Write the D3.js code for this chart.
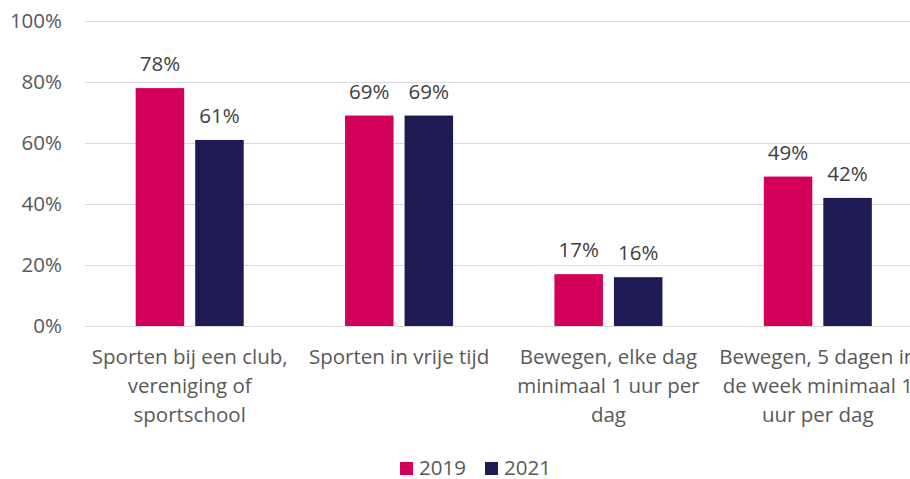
<!DOCTYPE html>
<html>
<head>
<meta charset="utf-8">
<script src="https://cdn.jsdelivr.net/npm/d3@7"></script>
<style>
  html, body { margin: 0; padding: 0; background: #fff; }
  svg { display: block; font-family: "Open Sans", sans-serif; }
</style>
</head>
<body>
<svg id="chart" width="910" height="479"></svg>
<script>
const categories = ['club', 'vrij', 'elke', 'vijf'];
const categoryLines = [
  ['Sporten bij een club,', 'vereniging of', 'sportschool'],
  ['Sporten in vrije tijd'],
  ['Bewegen, elke dag', 'minimaal 1 uur per', 'dag'],
  ['Bewegen, 5 dagen in', 'de week minimaal 1', 'uur per dag']
];
const seriesNames = ['2019', '2021'];
const values2019 = [0.78, 0.69, 0.17, 0.49];
const values2021 = [0.61, 0.69, 0.16, 0.42];
const yTicks = [0, 0.2, 0.4, 0.6, 0.8, 1];

const colors = { '2019': '#D3005A', '2021': '#1E1A53' };
const textColor = '#595959';
const fontSize = 20.5;

const svg = d3.select('#chart');

// plot area runs past the right edge, like the cropped original
const x = d3.scaleBand()
  .domain(categories)
  .range([85, 922.5])
  .paddingInner(0.484)
  .paddingOuter(0.242);

const xs = d3.scaleBand()
  .domain(seriesNames)
  .range([0, x.bandwidth()])
  .paddingInner(0.185);

const y = d3.scaleLinear().domain([0, 1]).range([326, 21]);

// gridlines
svg.append('g')
  .selectAll('line')
  .data(yTicks)
  .join('line')
  .attr('x1', 85)
  .attr('x2', 910)
  .attr('y1', d => Math.round(y(d)) + 0.5)
  .attr('y2', d => Math.round(y(d)) + 0.5)
  .attr('stroke', '#D9D9D9')
  .attr('stroke-width', 1);

// y tick labels
svg.append('g')
  .selectAll('text')
  .data(yTicks)
  .join('text')
  .attr('x', 62)
  .attr('y', d => y(d))
  .attr('dy', '0.35em')
  .attr('text-anchor', 'end')
  .attr('font-size', fontSize)
  .attr('fill', textColor)
  .text(d3.format('.0%'));

const rows = categories.map((c, i) => ({
  cat: c,
  vals: [
    { key: '2019', v: values2019[i] },
    { key: '2021', v: values2021[i] }
  ]
}));

const groups = svg.append('g')
  .selectAll('g')
  .data(rows)
  .join('g')
  .attr('transform', d => `translate(${x(d.cat)},0)`);

groups.selectAll('rect')
  .data(d => d.vals)
  .join('rect')
  .attr('x', d => xs(d.key))
  .attr('y', d => y(d.v))
  .attr('width', xs.bandwidth())
  .attr('height', d => y(0) - y(d.v))
  .attr('fill', d => colors[d.key]);

groups.selectAll('text.val')
  .data(d => d.vals)
  .join('text')
  .attr('class', 'val')
  .attr('x', d => xs(d.key) + xs.bandwidth() / 2)
  .attr('y', d => y(d.v) - 17)
  .attr('text-anchor', 'middle')
  .attr('font-size', fontSize)
  .attr('fill', '#404040')
  .text(d => d3.format('.0%')(d.v));

// category labels
const labels = svg.append('g')
  .selectAll('text')
  .data(categories)
  .join('text')
  .attr('x', d => x(d) + x.bandwidth() / 2)
  .attr('y', 364)
  .attr('text-anchor', 'middle')
  .attr('font-size', fontSize)
  .attr('fill', textColor);

labels.selectAll('tspan')
  .data((d, i) => categoryLines[i])
  .join('tspan')
  .attr('x', function () { return this.parentNode.getAttribute('x'); })
  .attr('dy', (d, i) => i === 0 ? 0 : 29)
  .text(d => d);

// legend
const legend = svg.append('g');
const legendX = [400, 485];
seriesNames.forEach((s, i) => {
  legend.append('rect')
    .attr('x', legendX[i])
    .attr('y', 462)
    .attr('width', 13)
    .attr('height', 13)
    .attr('fill', colors[s]);
  legend.append('text')
    .attr('x', legendX[i] + 19)
    .attr('y', 475)
    .attr('font-size', fontSize)
    .attr('fill', textColor)
    .text(s);
});
</script>
</body>
</html>
